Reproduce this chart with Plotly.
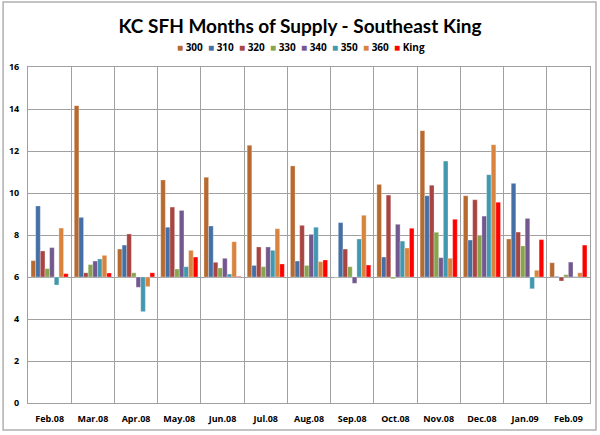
import plotly.graph_objects as go

months = ["Feb.08", "Mar.08", "Apr.08", "May.08", "Jun.08", "Jul.08", "Aug.08",
          "Sep.08", "Oct.08", "Nov.08", "Dec.08", "Jan.09", "Feb.09"]

s300 = [6.78, 14.16, 7.33, 10.62, 10.75, 12.27, 11.29, 6.0, 10.41, 12.97, 9.87, 7.81, 6.68]
s310 = [9.38, 8.84, 7.52, 8.37, 8.43, 6.55, 6.76, 8.59, 6.95, 9.87, 7.76, 10.46, 6.03]
s320 = [7.24, 6.20, 8.05, 9.33, 6.70, 7.43, 8.46, 7.33, 9.90, 10.37, 9.68, 8.14, 5.81]
s330 = [6.40, 6.59, 6.20, 6.38, 6.43, 6.49, 6.55, 6.49, 5.92, 8.13, 7.98, 7.48, 6.11]
s340 = [7.40, 6.76, 5.51, 9.17, 6.89, 7.43, 8.03, 5.70, 8.51, 6.92, 8.90, 8.79, 6.71]
s350 = [5.62, 6.86, 4.35, 6.49, 6.14, 7.27, 8.37, 7.81, 7.71, 11.52, 10.87, 5.44, 6.02]
s360 = [8.33, 7.03, 5.54, 7.27, 7.68, 8.30, 6.73, 8.94, 7.38, 6.89, 12.30, 6.32, 6.20]
king = [6.16, 6.19, 6.20, 6.95, 6.03, 6.62, 6.81, 6.57, 8.32, 8.75, 9.56, 7.78, 7.52]

series_names = ["300", "310", "320", "330", "340", "350", "360", "King"]
series_values = [s300, s310, s320, s330, s340, s350, s360, king]
colors = ["#B76A30", "#4470A6", "#A84442", "#88A44E", "#72588E", "#4298AE", "#D9843E", "#FF0000"]

axis_cross = 6
y_ticks = [0, 2, 4, 6, 8, 10, 12, 14, 16]

fig = go.Figure()
for name, vals, col in zip(series_names, series_values, colors):
    fig.add_trace(go.Bar(
        x=months,
        y=[v - axis_cross for v in vals],
        base=axis_cross,
        name=name,
        marker=dict(color=col, line=dict(color="rgba(255,255,255,0.6)", width=0.5)),
        showlegend=False,
    ))

W, H = 600, 435
L, R, T, B = 27, 9, 67, 32
pw, ph = W - L - R, H - T - B

def px_x(x):
    return (x - L) / pw

def px_y(y):
    return (H - B - y) / ph

legend_text = "&nbsp;&nbsp;".join(
    f'<span style="color:{c}">■</span> {n}' for n, c in zip(series_names, colors)
)

fig.update_layout(
    width=W, height=H,
    margin=dict(l=L, r=R, t=T, b=B, pad=0),
    paper_bgcolor="white",
    plot_bgcolor="white",
    barmode="group",
    bargap=0.14,
    bargroupgap=0,
    font=dict(family="Open Sans", size=9, color="#000000"),
    title=dict(
        text="<b>KC SFH Months of Supply - Southeast King</b>",
        x=0.5, xref="container", xanchor="center",
        y=1 - 26 / H, yref="container", yanchor="middle",
        font=dict(family="Lato", size=19, color="#000000"),
    ),
    showlegend=False,
    annotations=[
        dict(text=legend_text, xref="paper", yref="paper",
             x=px_x(301), y=px_y(47), xanchor="center", yanchor="middle",
             showarrow=False,
             font=dict(family="Open Sans", size=10, color="#000000", weight="bold")),
    ],
    xaxis=dict(
        type="category",
        tickson="boundaries",
        showgrid=True,
        gridcolor="#A0A0A0",
        gridwidth=1,
        showline=True,
        linecolor="#A0A0A0",
        mirror=True,
        ticks="",
        tickfont=dict(family="Open Sans", size=9, color="#000000", weight="bold"),
        ticklabelstandoff=7,
    ),
    yaxis=dict(
        range=[0, 16],
        tickvals=y_ticks,
        showgrid=True,
        gridcolor="#A0A0A0",
        gridwidth=1,
        zeroline=False,
        showline=True,
        linecolor="#A0A0A0",
        mirror=True,
        ticks="",
        tickfont=dict(family="Open Sans", size=9, color="#000000", weight="bold"),
        ticklabelstandoff=6,
    ),
    shapes=[
        dict(type="rect", xref="paper", yref="paper",
             x0=px_x(2), x1=px_x(597), y0=px_y(430), y1=px_y(2),
             line=dict(color="#B0B0B0", width=1.5), layer="below"),
    ],
)

fig.write_html("out.html")
